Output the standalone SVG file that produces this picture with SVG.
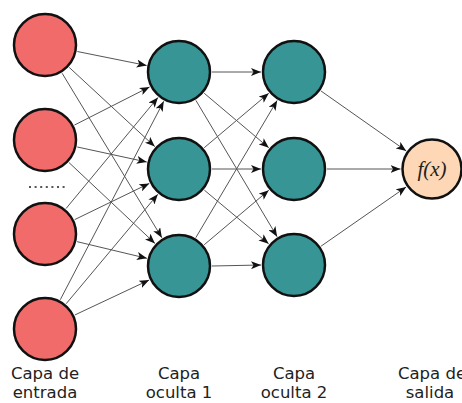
<svg xmlns="http://www.w3.org/2000/svg" width="462" height="403" viewBox="0 0 462 403">
<style>
.edge{stroke:#555;stroke-width:1;fill:none;marker-end:url(#arr)}
.in{fill:#f26b6b;stroke:#111;stroke-width:2.5}
.hid{fill:#379595;stroke:#111;stroke-width:2.5}
.out{fill:#fdd7b6;stroke:#111;stroke-width:2.5}
.lbl{font-family:"DejaVu Sans",sans-serif;font-size:16.5px;fill:#222;text-anchor:middle}
.fx{font-family:"Liberation Serif",serif;font-style:italic;font-size:21px;fill:#222;text-anchor:middle}
</style>
<defs>
<marker id="arr" markerUnits="userSpaceOnUse" markerWidth="11" markerHeight="8" refX="10" refY="4" orient="auto">
<path d="M0,0 L10,4 L0,8 L2.5,4 z" fill="#111"/>
</marker>
</defs>
<rect width="462" height="403" fill="#fff"/>
<g id="connectors">
<line class="edge" x1="77.35" y1="51.52" x2="146.65" y2="65.48"/>
<line class="edge" x1="69.22" y1="67.41" x2="154.78" y2="146.59"/>
<line class="edge" x1="62.11" y1="73.22" x2="161.89" y2="237.78"/>
<line class="edge" x1="74.43" y1="125.07" x2="149.57" y2="86.93"/>
<line class="edge" x1="77.25" y1="146.98" x2="146.75" y2="162.02"/>
<line class="edge" x1="69.04" y1="162.61" x2="154.96" y2="243.39"/>
<line class="edge" x1="66.03" y1="208.57" x2="157.97" y2="97.43"/>
<line class="edge" x1="74.69" y1="219.6" x2="149.31" y2="183.4"/>
<line class="edge" x1="77.1" y1="241.67" x2="146.9" y2="258.33"/>
<line class="edge" x1="60.26" y1="299.74" x2="163.74" y2="101.26"/>
<line class="edge" x1="66.19" y1="303.7" x2="157.81" y2="194.3"/>
<line class="edge" x1="74.86" y1="314.96" x2="149.14" y2="280.04"/>
<line class="edge" x1="212" y1="72" x2="261" y2="72"/>
<line class="edge" x1="204.22" y1="93.28" x2="268.78" y2="147.72"/>
<line class="edge" x1="195.89" y1="100.35" x2="277.11" y2="236.65"/>
<line class="edge" x1="204.22" y1="147.72" x2="268.78" y2="93.28"/>
<line class="edge" x1="212" y1="169" x2="261" y2="169"/>
<line class="edge" x1="204.33" y1="190.15" x2="268.67" y2="243.85"/>
<line class="edge" x1="195.83" y1="237.61" x2="277.17" y2="100.39"/>
<line class="edge" x1="204.22" y1="244.72" x2="268.78" y2="190.28"/>
<line class="edge" x1="212" y1="266" x2="261" y2="265"/>
<line class="edge" x1="320.99" y1="90.98" x2="406.23" y2="150.88"/>
<line class="edge" x1="327" y1="169" x2="400.5" y2="169"/>
<line class="edge" x1="321.09" y1="246.15" x2="406.14" y2="187.01"/>
</g>
<g id="in1"><circle class="in" cx="45" cy="45" r="31"/></g>
<g id="in2"><circle class="in" cx="45" cy="140" r="31"/></g>
<g id="dots"><line x1="29" y1="187" x2="66" y2="187" stroke="#555" stroke-width="2" stroke-dasharray="2 3.6"/></g>
<g id="in3"><circle class="in" cx="45" cy="234" r="31"/></g>
<g id="in4"><circle class="in" cx="45" cy="329" r="31"/></g>
<g id="h1a"><circle class="hid" cx="179" cy="72" r="31"/></g>
<g id="h1b"><circle class="hid" cx="179" cy="169" r="31"/></g>
<g id="h1c"><circle class="hid" cx="179" cy="266" r="31"/></g>
<g id="h2a"><circle class="hid" cx="294" cy="72" r="31"/></g>
<g id="h2b"><circle class="hid" cx="294" cy="169" r="31"/></g>
<g id="h2c"><circle class="hid" cx="294" cy="265" r="31"/></g>
<g id="out"><circle class="out" cx="432" cy="169" r="29.5"/><text class="fx" x="432" y="176">f(x)</text></g>
<g id="labels">
<text class="lbl" x="45" y="379">Capa de</text>
<text class="lbl" x="45" y="398">entrada</text>
<text class="lbl" x="179" y="379">Capa</text>
<text class="lbl" x="179" y="398">oculta 1</text>
<text class="lbl" x="294" y="379">Capa</text>
<text class="lbl" x="294" y="398">oculta 2</text>
<text class="lbl" x="432" y="379">Capa de</text>
<text class="lbl" x="430" y="398">salida</text>
</g>
</svg>
